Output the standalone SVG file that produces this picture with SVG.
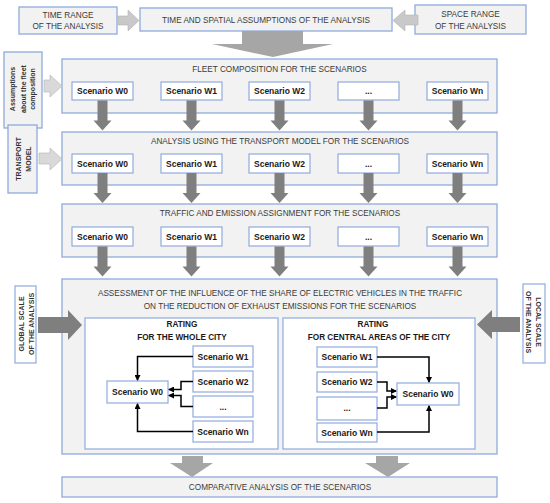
<svg xmlns="http://www.w3.org/2000/svg" width="550" height="503" viewBox="0 0 550 503">
<defs>
<style>
.sec{fill:#f2f2f2;stroke:#8faadc;stroke-width:1.3}
.box{fill:#ffffff;stroke:#8faadc;stroke-width:1.2}
.t{font-family:"Liberation Sans",Arial,sans-serif;font-size:8.2px;fill:#3a3a3a;text-anchor:middle}
.b{font-family:"Liberation Sans",Arial,sans-serif;font-size:8.5px;font-weight:bold;fill:#1a1a1a;text-anchor:middle}
.r{font-family:"Liberation Sans",Arial,sans-serif;font-size:7px;font-weight:bold;fill:#333;text-anchor:middle}
.dark{fill:#7f7f7f}
.light{fill:#c9c9c9;stroke:#b3b3b3;stroke-width:0.6}
.mid{fill:#a6a6a6}
.ln{fill:none;stroke:#000;stroke-width:1.5}
</style>
<path id="darr" d="M-5,0 H5 V20 H9 L0,30 L-9,20 H-5 Z" class="dark"/>
<marker id="ah" markerWidth="6" markerHeight="6" refX="5" refY="3" orient="auto" markerUnits="userSpaceOnUse">
<path d="M0,0 L6,3 L0,6 Z" fill="#000"/>
</marker>
</defs>

<g id="top">
<rect class="sec" x="140" y="8" width="252" height="23"/>
<text class="t" x="266" y="23">TIME AND SPATIAL ASSUMPTIONS OF THE ANALYSIS</text>
</g>
<g id="time-range">
<rect class="sec" x="19" y="7" width="98" height="27"/>
<text class="t" x="68" y="17.5">TIME RANGE</text>
<text class="t" x="68" y="29">OF THE ANALYSIS</text>
</g>
<g id="space-range">
<rect class="sec" x="415" y="5" width="111" height="29"/>
<text class="t" x="470.5" y="17">SPACE RANGE</text>
<text class="t" x="470.5" y="28.5">OF THE ANALYSIS</text>
</g>

<g id="assumptions">
<rect class="sec" x="4" y="52" width="38" height="76"/>
<g transform="translate(23,89) rotate(-90)">
<text class="r" x="0" y="-8">Assumptions</text>
<text class="r" x="0" y="2.5">about  the fleet</text>
<text class="r" x="0" y="12">composition</text>
</g>
</g>
<g id="transport-model">
<rect class="sec" x="8" y="125" width="29" height="68"/>
<g transform="translate(22.5,159) rotate(-90)">
<text class="r" x="0" y="-2">TRANSPORT</text>
<text class="r" x="0" y="8">MODEL</text>
</g>
</g>
<g id="global">
<rect class="box" x="15" y="286" width="21" height="77"/>
<g transform="translate(25.5,324) rotate(-90)">
<text class="r" x="0" y="-2">GLOBAL  SCALE</text>
<text class="r" x="0" y="8">OF THE ANALYSIS</text>
</g>
</g>
<g id="local">
<rect class="box" x="523" y="284" width="22" height="79"/>
<g transform="translate(534,322) rotate(90)">
<text class="r" x="0" y="-2">LOCAL  SCALE</text>
<text class="r" x="0" y="8">OF THE ANALYSIS</text>
</g>
</g>

<g id="fleet">
<rect class="sec" x="62" y="59" width="435" height="54"/>
<text class="t" x="279.5" y="72">FLEET COMPOSITION FOR THE SCENARIOS</text>
<rect class="box" x="72" y="82" width="61" height="18"/><text class="b" x="102.5" y="94">Scenario W0</text>
<rect class="box" x="161" y="82" width="61" height="18"/><text class="b" x="191.5" y="94">Scenario W1</text>
<rect class="box" x="249" y="82" width="61" height="18"/><text class="b" x="279.5" y="94">Scenario W2</text>
<rect class="box" x="338" y="82" width="61" height="18"/><text class="b" x="368.5" y="94">...</text>
<rect class="box" x="427" y="82" width="61" height="18"/><text class="b" x="457.5" y="94">Scenario Wn</text>
</g>

<g id="transport">
<rect class="sec" x="62" y="132" width="435" height="53"/>
<text class="t" x="280" y="144">ANALYSIS USING THE TRANSPORT MODEL FOR THE SCENARIOS</text>
<rect class="box" x="72" y="154" width="61" height="19"/><text class="b" x="102.5" y="166.5">Scenario W0</text>
<rect class="box" x="161" y="154" width="61" height="19"/><text class="b" x="191.5" y="166.5">Scenario W1</text>
<rect class="box" x="249" y="154" width="61" height="19"/><text class="b" x="279.5" y="166.5">Scenario W2</text>
<rect class="box" x="338" y="154" width="61" height="19"/><text class="b" x="368.5" y="166.5">...</text>
<rect class="box" x="427" y="154" width="61" height="19"/><text class="b" x="457.5" y="166.5">Scenario Wn</text>
</g>

<g id="traffic">
<rect class="sec" x="62" y="204" width="435" height="53"/>
<text class="t" x="280" y="216">TRAFFIC AND EMISSION ASSIGNMENT FOR THE SCENARIOS</text>
<rect class="box" x="72" y="227" width="61" height="19"/><text class="b" x="102.5" y="239.5">Scenario W0</text>
<rect class="box" x="161" y="227" width="61" height="19"/><text class="b" x="191.5" y="239.5">Scenario W1</text>
<rect class="box" x="249" y="227" width="61" height="19"/><text class="b" x="279.5" y="239.5">Scenario W2</text>
<rect class="box" x="338" y="227" width="61" height="19"/><text class="b" x="368.5" y="239.5">...</text>
<rect class="box" x="427" y="227" width="61" height="19"/><text class="b" x="457.5" y="239.5">Scenario Wn</text>
</g>

<g id="assessment">
<rect class="sec" x="62" y="279" width="435" height="175"/>
<text class="t" x="280" y="296">ASSESSMENT OF THE INFLUENCE OF THE SHARE OF ELECTRIC VEHICLES IN THE TRAFFIC</text>
<text class="t" x="280" y="309">ON THE REDUCTION OF EXHAUST EMISSIONS FOR THE SCENARIOS</text>
</g>

<g id="rating-city">
<rect class="box" x="85" y="318" width="193" height="131"/>
<text class="b" x="182" y="326.5" style="font-size:8.2px">RATING</text>
<text class="b" x="182" y="339.5" style="font-size:8.2px">FOR THE WHOLE CITY</text>
<rect class="box" x="107" y="381" width="61" height="22"/><text class="b" x="137.5" y="395">Scenario W0</text>
<rect class="box" x="193" y="346" width="60" height="21"/><text class="b" x="223" y="359.5">Scenario W1</text>
<rect class="box" x="193" y="371" width="60" height="21"/><text class="b" x="223" y="384.5">Scenario W2</text>
<rect class="box" x="193" y="396" width="60" height="21"/><text class="b" x="223" y="409.5">...</text>
<rect class="box" x="193" y="421" width="60" height="21"/><text class="b" x="223" y="434.5">Scenario Wn</text>
</g>

<g id="rating-central">
<rect class="box" x="283" y="318" width="192" height="131"/>
<text class="b" x="373" y="326.5" style="font-size:8.2px">RATING</text>
<text class="b" x="379" y="339.5" style="font-size:8.2px">FOR CENTRAL AREAS OF THE CITY</text>
<rect class="box" x="397" y="383" width="62" height="22"/><text class="b" x="428" y="397">Scenario W0</text>
<rect class="box" x="317" y="347" width="60" height="20"/><text class="b" x="347" y="360">Scenario W1</text>
<rect class="box" x="317" y="372" width="60" height="20"/><text class="b" x="347" y="385">Scenario W2</text>
<rect class="box" x="317" y="397" width="60" height="23"/><text class="b" x="347" y="411">...</text>
<rect class="box" x="317" y="423" width="60" height="19"/><text class="b" x="347" y="435.5">Scenario Wn</text>
</g>

<g id="comparative">
<rect class="sec" x="62" y="477" width="435" height="20"/>
<text class="t" x="280" y="490">COMPARATIVE ANALYSIS OF THE SCENARIOS</text>
</g>

<g id="connectors">
<polygon class="light" points="118,16 128,16 128,10 139,20.5 128,31 128,25 118,25"/>
<polygon class="light" points="418,15 405,15 405,10 393,20.5 405,31 405,25 418,25"/>
<polygon class="mid" points="242,31 303,31 303,44 333,44 273,57 212,44 242,44"/>
<polygon class="light" points="44,80 50,80 50,75 62,86 50,97 50,92 44,92" style="fill:#d9d9d9"/>
<polygon class="light" points="39,153 50,153 50,148 62,159 50,170 50,164 39,164" style="fill:#d9d9d9"/>
<polygon class="dark" points="38,317 68,317 68,310 82,325 68,340 68,333 38,333"/>
<polygon class="dark" points="520,317 492,317 492,310 477,324.5 492,339 492,332 520,332"/>
<polygon class="mid" points="182,456 203,456 203,463 213,463 192,477 170,463 182,463"/>
<polygon class="mid" points="376,456 398,456 398,463 410,463 388,477 365,463 376,463"/>
<use href="#darr" transform="translate(102.5,100.5)"/>
<use href="#darr" transform="translate(191.5,100.5)"/>
<use href="#darr" transform="translate(279.5,100.5)"/>
<use href="#darr" transform="translate(368.5,100.5)"/>
<use href="#darr" transform="translate(457.5,100.5)"/>
<use href="#darr" transform="translate(102.5,173)"/>
<use href="#darr" transform="translate(191.5,173)"/>
<use href="#darr" transform="translate(279.5,173)"/>
<use href="#darr" transform="translate(368.5,173)"/>
<use href="#darr" transform="translate(457.5,173)"/>
<use href="#darr" transform="translate(102.5,246.5)"/>
<use href="#darr" transform="translate(191.5,246.5)"/>
<use href="#darr" transform="translate(279.5,246.5)"/>
<use href="#darr" transform="translate(368.5,246.5)"/>
<use href="#darr" transform="translate(457.5,246.5)"/>
<path class="ln" d="M193,356.5 H137.5 V380" marker-end="url(#ah)"/>
<path class="ln" d="M193,431.5 H137.5 V404" marker-end="url(#ah)"/>
<path class="ln" d="M193,381.5 H181 V389.5 H169" marker-end="url(#ah)"/>
<path class="ln" d="M193,406.5 H181 V395.5 H169" marker-end="url(#ah)"/>
<path class="ln" d="M377,357 H429 V382" marker-end="url(#ah)"/>
<path class="ln" d="M377,432 H429 V406" marker-end="url(#ah)"/>
<path class="ln" d="M377,382 H387 V391 H396" marker-end="url(#ah)"/>
<path class="ln" d="M377,408 H387 V397 H396" marker-end="url(#ah)"/>
</g>
</svg>
